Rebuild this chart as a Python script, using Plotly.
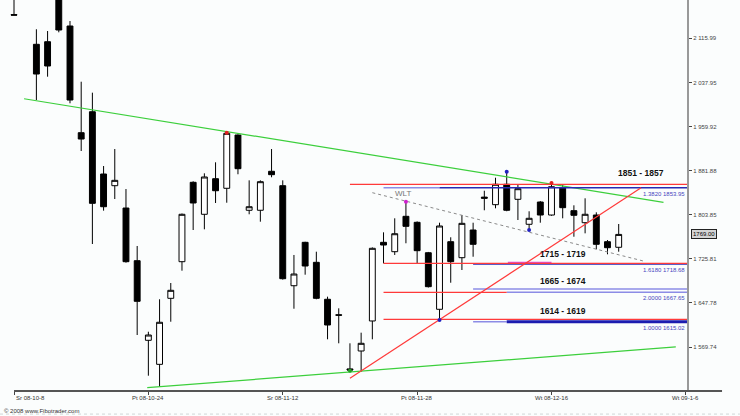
import plotly.graph_objects as go

# ---------------- data ----------------
bar_index = list(range(55))
open_ = [2158.0, 2240.0, 2105.4, 2110.0, 2200.0, 2137.8, 1949.0, 1986.1, 1875.9, 1855.2,
         1815.7, 1722.5, 1581.6, 1539.1, 1655.9, 1720.7, 1861.2, 1804.6, 1867.6, 1850.6,
         1944.9, 1811.7, 1811.7, 1880.7, 1855.2, 1678.2, 1755.0, 1719.6, 1654.2, 1626.8,
         1531.0, 1562.7, 1615.8, 1755.0, 1738.4, 1801.0, 1790.4, 1736.6, 1636.5, 1756.1,
         1727.8, 1776.8, 1835.0, 1821.6, 1857.7, 1831.1, 1786.9, 1826.3, 1803.3, 1851.6,
         1811.0, 1789.7, 1803.3, 1756.1, 1746.2]
high = [2230.0, 2262.0, 2132.0, 2128.9, 2215.0, 2146.6, 2039.2, 2019.8, 1890.0, 1920.1,
        1849.3, 1748.5, 1596.8, 1654.2, 1683.0, 1806.0, 1863.0, 1877.1, 1896.6, 1949.0,
        1946.0, 1864.7, 1864.7, 1920.1, 1864.7, 1732.6, 1756.0, 1738.4, 1658.8, 1638.2,
        1576.3, 1595.1, 1746.0, 1772.7, 1797.5, 1826.9, 1792.0, 1738.0, 1789.7, 1763.9,
        1803.3, 1789.7, 1846.3, 1869.3, 1880.0, 1857.7, 1809.9, 1828.0, 1860.0, 1857.7,
        1820.5, 1832.9, 1808.1, 1759.1, 1787.4]
low = [2157.0, 2195.0, 2006.8, 2048.1, 2126.6, 2001.0, 1916.6, 1752.0, 1811.0, 1831.6,
       1719.0, 1591.0, 1519.0, 1499.5, 1614.5, 1704.8, 1776.8, 1778.0, 1824.6, 1825.1,
       1875.4, 1804.6, 1791.5, 1870.1, 1689.0, 1637.5, 1697.7, 1654.2, 1583.4, 1576.3,
       1527.8, 1526.0, 1583.4, 1717.8, 1732.6, 1753.3, 1717.8, 1675.0, 1617.5, 1683.5,
       1706.0, 1729.5, 1811.7, 1815.2, 1810.0, 1794.5, 1776.8, 1789.7, 1802.0, 1797.5,
       1764.9, 1770.9, 1742.6, 1733.8, 1738.4]
close = [2157.0, 2205.0, 2052.8, 2067.0, 2130.7, 2006.8, 1937.8, 1824.0, 1818.0, 1864.7,
         1720.7, 1650.6, 1591.0, 1613.5, 1670.1, 1804.6, 1824.6, 1870.6, 1846.3, 1947.9,
         1885.3, 1818.0, 1862.3, 1874.7, 1690.6, 1698.9, 1713.1, 1655.9, 1608.7, 1626.0,
         1529.0, 1576.3, 1744.4, 1750.2, 1770.2, 1783.3, 1740.2, 1676.5, 1783.9, 1720.7,
         1788.6, 1751.5, 1833.0, 1857.7, 1811.7, 1849.9, 1797.5, 1803.3, 1853.4, 1816.3,
         1802.8, 1804.6, 1751.5, 1745.5, 1769.0]

x_tick_index = [0, 12, 24, 36, 48, 60]
x_tick_labels = ["Sr 08-10-8", "Pt 08-10-24", "Sr 08-11-12", "Pt 08-11-28", "Wt 08-12-16", "Wt 09-1-6"]
y_tick_values = [2115.99, 2037.95, 1959.92, 1881.88, 1803.85, 1725.81, 1647.78, 1569.74]
y_tick_labels = ["2 115.99", "2 037.95", "1 959.92", "1 881.88", "1 803.85", "1 725.81", "1 647.78", "1 569.74"]
last_price = 1769.00

# trend lines: (bar index, price)
green_upper_x = [0.9, 58.0]
green_upper_y = [2009.1, 1825.8]
green_lower_x = [11.9, 59.1]
green_lower_y = [1497.7, 1570.1]
red_trend_x = [30.0, 56.0]
red_trend_y = [1514.4, 1851.6]
wlt_x = [32.0, 56.2]
wlt_y = [1842.8, 1721.9]

# horizontal levels: price, from bar, to bar
red_lvl_price = [1857.7, 1717.8, 1666.5, 1618.8]
red_lvl_from = [30.0, 33.0, 33.0, 33.0]
red_lvl_to = [60.1, 60.1, 44.0, 60.1]
blue_lvl_price = [1851.6, 1716.6]
blue_lvl_from = [38.0, 41.0]
blue_lvl_to = [60.1, 60.1]
blue_thick_price = [1614.5]
blue_thick_from = [44.0]
blue_thick_to = [60.1]
lblue_lvl_price = [1851.6, 1672.4, 1666.5, 1614.5]
lblue_lvl_from = [33.0, 41.0, 44.0, 41.0]
lblue_lvl_to = [38.0, 60.1, 60.1, 44.0]
pink_lvl_price = [1719.6]
pink_lvl_from = [44.1]
pink_lvl_to = [48.0]

zone_labels = ["1851 - 1857", "1715 - 1719", "1665 - 1674", "1614 - 1619"]
zone_high = [1857, 1719, 1674, 1619]
fib_labels = ["1.3820 1853.95", "1.6180 1718.68", "2.0000 1667.65", "1.0000 1615.02"]
fib_price = [1851.6, 1716.6, 1666.5, 1614.5]

red_mark_x = [19, 48]
red_mark_y = [1949.0, 1860.0]
blue_mark_x = [38, 44, 46]
blue_mark_y = [1617.5, 1880.0, 1776.8]
magenta_mark_x = [35]
magenta_mark_y = [1826.9]
green_mark_x = [30]
green_mark_y = [1527.8]


def segments(prices, x0s, x1s):
    xs, ys = [], []
    for p, a, b in zip(prices, x0s, x1s):
        xs += [a, b, None]
        ys += [p, p, None]
    return xs, ys


fig = go.Figure()
fig.add_trace(go.Candlestick(
    x=bar_index, open=open_, high=high, low=low, close=close,
    increasing=dict(line=dict(color="#000000", width=1), fillcolor="#ffffff"),
    decreasing=dict(line=dict(color="#000000", width=1), fillcolor="#000000"),
    whiskerwidth=0, hoverinfo="skip"))


def add_line(xs, ys, color, width, dash="solid"):
    fig.add_trace(go.Scatter(x=xs, y=ys, mode="lines", line=dict(color=color, width=width, dash=dash),
                             hoverinfo="skip"))


add_line(green_upper_x, green_upper_y, "#3ccf3c", 1.2)
add_line(green_lower_x, green_lower_y, "#3ccf3c", 1.2)
add_line(wlt_x, wlt_y, "#8a8a8a", 1, "dot")
sx, sy = segments(lblue_lvl_price, lblue_lvl_from, lblue_lvl_to)
add_line(sx, sy, "#8c8ce6", 1.5)
sx, sy = segments(blue_lvl_price, blue_lvl_from, blue_lvl_to)
add_line(sx, sy, "#2828b4", 1.5)
sx, sy = segments(blue_thick_price, blue_thick_from, blue_thick_to)
add_line(sx, sy, "#1c1cb0", 3)
sx, sy = segments(pink_lvl_price, pink_lvl_from, pink_lvl_to)
add_line(sx, sy, "#e050d0", 1.2)
sx, sy = segments(red_lvl_price, red_lvl_from, red_lvl_to)
add_line(sx, sy, "#ff3a3a", 1.2)
add_line(red_trend_x, red_trend_y, "#ff3a3a", 1.2)


def add_marks(xs, ys, color):
    fig.add_trace(go.Scatter(x=xs, y=ys, mode="markers", marker=dict(color=color, size=4),
                             hoverinfo="skip"))


add_marks(red_mark_x, red_mark_y, "#e02020")
add_marks(blue_mark_x, blue_mark_y, "#2020c0")
add_marks(magenta_mark_x, magenta_mark_y, "#d020d0")
add_marks(green_mark_x, green_mark_y, "#20a020")

ann = []
label_bar = [56.0, 49.0, 49.0, 49.0]
label_shift = [5, 2, 0, 1]
for t, p, bx, sh in zip(zone_labels, zone_high, label_bar, label_shift):
    ann.append(dict(x=bx, y=p, xref="x", yref="y", text="<b>" + t + "</b>", showarrow=False,
                    yanchor="bottom", yshift=sh, font=dict(size=8.5, color="#111111",
                                                           family="Liberation Sans, Arial")))
for t, p in zip(fib_labels, fib_price):
    ann.append(dict(x=1, y=p, xref="paper", yref="y", text=t, showarrow=False,
                    xanchor="right", yanchor="top", yshift=-1,
                    font=dict(size=6, color="#4646c0", family="Liberation Sans, Arial")))
ann.append(dict(x=magenta_mark_x[0], y=magenta_mark_y[0], xref="x", yref="y", text="WLT",
                showarrow=False, yanchor="bottom", yshift=2, xshift=-3,
                font=dict(size=8, color="#777777", family="Liberation Sans, Arial")))
ann.append(dict(x=1, y=last_price, xref="paper", yref="y", text=f"{last_price:.2f}",
                showarrow=False, xanchor="left", xshift=4, bgcolor="#d4d4d4",
                bordercolor="#222222", borderwidth=1, borderpad=1,
                font=dict(size=6, color="#000000", family="Liberation Sans, Arial")))
for i, (v, t) in enumerate(zip(x_tick_index, x_tick_labels)):
    ann.append(dict(x=v, y=0, xref="x", yref="paper", text=t, showarrow=False,
                    xanchor="left" if i == 0 else "center", yanchor="middle", yshift=-7,
                    font=dict(size=6, color="#333333", family="Liberation Sans, Arial")))
ann.append(dict(x=0, y=0, xref="paper", yref="paper", text="© 2008 www.Fibotrader.com",
                showarrow=False, xanchor="left", yanchor="middle", xshift=2, yshift=-20,
                font=dict(size=6, color="#333333", family="Liberation Sans, Arial")))

shapes = [
    dict(type="line", xref="paper", yref="paper", x0=0.0204, x1=1.051, y0=0, y1=0,
         line=dict(color="#555555", width=2)),
    dict(type="line", xref="paper", yref="paper", x0=0, x1=1.077, y0=-0.059, y1=-0.059,
         line=dict(color="#cfd6d6", width=1, dash="dot")),
]

fig.update_layout(
    width=740, height=416,
    margin=dict(l=0, r=53, t=0, b=25),
    paper_bgcolor="#fbfdfd", plot_bgcolor="#fbfdfd",
    showlegend=False, boxgap=0.25,
    annotations=ann, shapes=shapes,
    xaxis=dict(range=[-1.25, 60.1], showgrid=False, zeroline=False, showline=False,
               tickvals=x_tick_index, showticklabels=False, ticks="outside", ticklen=3,
               tickcolor="#444444", rangeslider=dict(visible=False), fixedrange=True),
    yaxis=dict(side="right", range=[1491.9, 2183.8], showgrid=False, zeroline=False,
               showline=True, linecolor="#999999", linewidth=2,
               tickvals=y_tick_values, ticktext=y_tick_labels, ticks="outside", ticklen=3,
               tickcolor="#444444",
               tickfont=dict(size=6, color="#444444", family="Liberation Sans, Arial")),
)

fig.write_html("out.html", config={"displayModeBar": False},
               post_script="document.body.style.margin='0';document.body.style.overflow='hidden';")
